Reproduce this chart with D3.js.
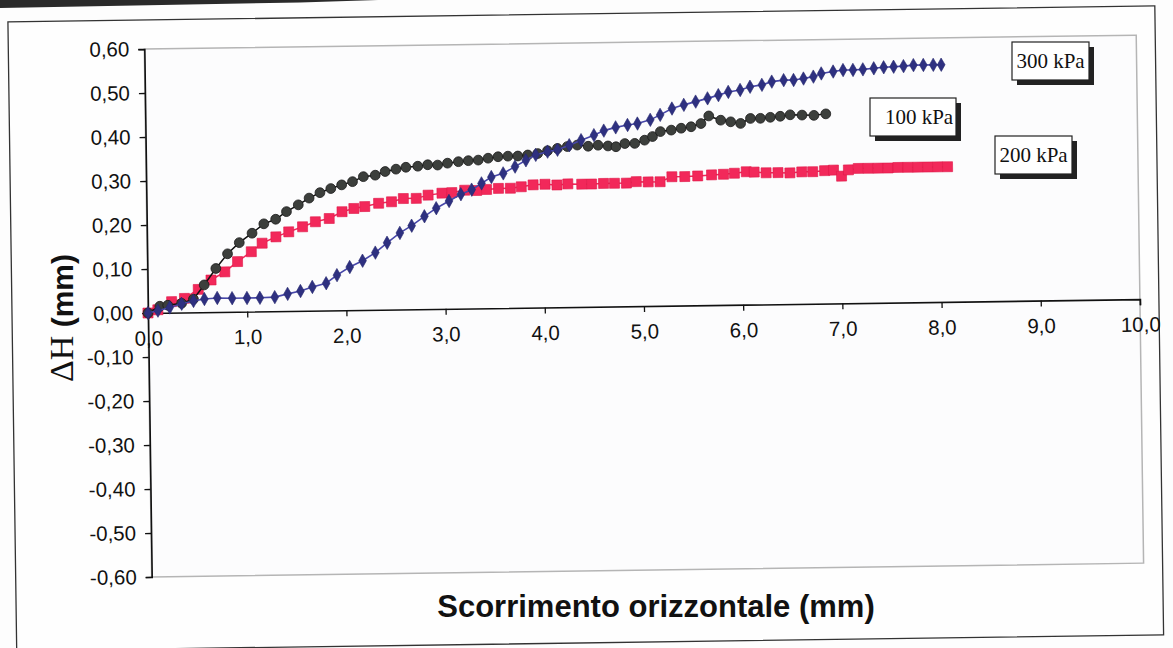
<!DOCTYPE html>
<html>
<head>
<meta charset="utf-8">
<script src="https://cdn.jsdelivr.net/npm/d3@7"></script>
<style>
  html, body { margin: 0; padding: 0; background: #fdfdfd; }
  svg { display: block; }
</style>
</head>
<body>
<svg id="chart" width="1173" height="648"></svg>
<script>
// ---- data ----
const xTicks = [0,1,2,3,4,5,6,7,8,9,10];
const yTicks = [-0.6,-0.5,-0.4,-0.3,-0.2,-0.1,0,0.1,0.2,0.3,0.4,0.5,0.6];
const seriesNames = ["100 kPa", "200 kPa", "300 kPa"];

const x300 = [0.00,0.10,0.22,0.34,0.46,0.57,0.70,0.85,1.00,1.13,1.28,1.41,1.54,1.66,1.80,1.91,2.04,2.17,2.30,2.42,2.55,2.67,2.80,2.92,3.05,3.17,3.28,3.38,3.48,3.60,3.72,3.83,3.93,4.05,4.15,4.27,4.39,4.52,4.62,4.74,4.86,4.96,5.09,5.19,5.31,5.43,5.55,5.67,5.78,5.88,6.00,6.10,6.22,6.32,6.44,6.54,6.64,6.74,6.82,6.94,7.04,7.14,7.24,7.35,7.45,7.55,7.65,7.75,7.85,7.95,8.03];
const y300 = [0.000,0.005,0.012,0.020,0.026,0.030,0.032,0.031,0.031,0.031,0.032,0.039,0.045,0.054,0.062,0.080,0.098,0.112,0.130,0.152,0.174,0.190,0.211,0.229,0.245,0.260,0.270,0.284,0.298,0.306,0.321,0.335,0.347,0.354,0.358,0.368,0.379,0.390,0.400,0.407,0.412,0.415,0.423,0.434,0.448,0.456,0.463,0.470,0.477,0.484,0.488,0.495,0.499,0.506,0.509,0.509,0.512,0.516,0.523,0.527,0.530,0.530,0.531,0.533,0.535,0.536,0.537,0.539,0.539,0.539,0.539];

const x100 = [0.00,0.12,0.20,0.34,0.46,0.57,0.69,0.81,0.93,1.06,1.18,1.30,1.41,1.53,1.64,1.75,1.86,1.97,2.08,2.19,2.31,2.41,2.52,2.62,2.74,2.84,2.94,3.04,3.15,3.25,3.35,3.45,3.55,3.65,3.75,3.85,3.95,4.05,4.15,4.25,4.35,4.46,4.56,4.66,4.74,4.83,4.93,5.03,5.11,5.19,5.30,5.40,5.50,5.60,5.68,5.80,5.90,6.00,6.10,6.20,6.30,6.40,6.50,6.62,6.74,6.86];
const y100 = [0.000,0.015,0.017,0.021,0.030,0.062,0.099,0.132,0.157,0.178,0.199,0.209,0.226,0.241,0.256,0.268,0.277,0.285,0.292,0.303,0.306,0.314,0.319,0.323,0.325,0.328,0.327,0.331,0.334,0.336,0.337,0.341,0.344,0.345,0.345,0.347,0.350,0.356,0.361,0.365,0.368,0.365,0.367,0.365,0.363,0.370,0.370,0.377,0.385,0.396,0.399,0.403,0.406,0.413,0.430,0.420,0.416,0.412,0.423,0.423,0.425,0.427,0.430,0.429,0.428,0.431];

const x200 = [0.00,0.10,0.24,0.37,0.51,0.64,0.78,0.91,1.05,1.16,1.30,1.43,1.57,1.70,1.84,1.97,2.09,2.20,2.34,2.47,2.59,2.72,2.84,2.98,3.08,3.21,3.33,3.43,3.55,3.67,3.78,3.90,4.02,4.14,4.25,4.39,4.49,4.61,4.72,4.84,4.94,5.06,5.18,5.30,5.43,5.56,5.70,5.82,5.93,6.05,6.13,6.25,6.37,6.49,6.61,6.72,6.84,6.93,7.01,7.08,7.18,7.28,7.38,7.48,7.58,7.68,7.78,7.88,7.98,8.08];
const y200 = [0.000,0.007,0.025,0.032,0.052,0.073,0.091,0.114,0.136,0.155,0.169,0.180,0.191,0.202,0.209,0.224,0.231,0.235,0.242,0.245,0.252,0.252,0.259,0.263,0.264,0.269,0.268,0.270,0.272,0.272,0.275,0.279,0.280,0.278,0.280,0.279,0.279,0.280,0.280,0.280,0.283,0.282,0.282,0.293,0.293,0.294,0.296,0.297,0.299,0.302,0.301,0.299,0.299,0.298,0.300,0.300,0.302,0.303,0.289,0.303,0.306,0.306,0.306,0.306,0.307,0.307,0.307,0.307,0.307,0.307];

// ---- layout ----
const svg = d3.select("#chart");
const ox = 148, oy = 313; // origin of the (tilted) scan
const g = svg.append("g").attr("transform", `rotate(-0.8, ${ox}, ${oy})`);

const x = d3.scaleLinear().domain([0, 10]).range([148, 1140]);
const y = d3.scaleLinear().domain([-0.6, 0.6]).range([577, 49]);

const fmt1 = d => d3.format(".1f")(d).replace(".", ",");
const fmt2 = d => d3.format(".2f")(d).replace(".", ",").replace("−", "-");

// scan artifact at top-left
svg.append("path").attr("d", "M0,0 L378,0 L300,2.5 L0,8 Z").attr("fill", "#2a2a2a");

// outer frame
g.append("rect").attr("x", 12).attr("y", 20).attr("width", 1147).attr("height", 629)
  .attr("fill", "#fefefe").attr("stroke", "#333").attr("stroke-width", 1.3);

// plot area
g.append("rect").attr("x", x(0)).attr("y", y(0.6)).attr("width", x(10) - x(0)).attr("height", y(-0.6) - y(0.6))
  .attr("fill", "#fcfcfd").attr("stroke", "#b5b5b5").attr("stroke-width", 1.5);

// axes
const yAxis = d3.axisLeft(y).tickValues(yTicks).tickSize(6).tickPadding(9).tickFormat(fmt2);
const yg = g.append("g").attr("transform", `translate(${x(0)},0)`).call(yAxis);
yg.select(".domain").attr("stroke", "#111").attr("stroke-width", 1.6);
yg.selectAll(".tick line").attr("stroke", "#111").attr("stroke-width", 1.3);
yg.selectAll(".tick text").attr("font-family", "Liberation Sans, Arial, sans-serif").attr("font-size", 20.5).attr("fill", "#111");

const xAxis = d3.axisBottom(x).tickValues(xTicks).tickSize(6).tickPadding(12).tickFormat(fmt1);
const xg = g.append("g").attr("transform", `translate(0,${y(0)})`).call(xAxis);
xg.select(".domain").attr("stroke", "#111").attr("stroke-width", 1.6);
xg.selectAll(".tick line").attr("stroke", "#111").attr("stroke-width", 1.3);
xg.selectAll(".tick text").attr("font-family", "Liberation Sans, Arial, sans-serif").attr("font-size", 20.5).attr("fill", "#111");

// series
function series(xs, ys, name) { return xs.map((v, i) => ({ x: v, y: ys[i], name })); }
const d100 = series(x100, y100, seriesNames[0]);
const d200 = series(x200, y200, seriesNames[1]);
const d300 = series(x300, y300, seriesNames[2]);
const line = d3.line().x(d => x(d.x)).y(d => y(d.y));

// 200 kPa (red squares)
g.append("path").datum(d200).attr("d", line).attr("fill", "none").attr("stroke", "#f0285a").attr("stroke-width", 1.5);
g.append("g").selectAll("rect").data(d200).join("rect")
  .attr("x", d => x(d.x) - 5).attr("y", d => y(d.y) - 5).attr("width", 10).attr("height", 10)
  .attr("fill", "#f2285a").attr("stroke", "#e01848").attr("stroke-width", 0.6);

// 100 kPa (black circles)
g.append("path").datum(d100).attr("d", line).attr("fill", "none").attr("stroke", "#111").attr("stroke-width", 1.5);
g.append("g").selectAll("circle").data(d100).join("circle")
  .attr("cx", d => x(d.x)).attr("cy", d => y(d.y)).attr("r", 4.9)
  .attr("fill", "#3c3f3c").attr("stroke", "#1a1a1a").attr("stroke-width", 0.8);

// 300 kPa (blue diamonds)
g.append("path").datum(d300).attr("d", line).attr("fill", "none").attr("stroke", "#4646a8").attr("stroke-width", 1.6);
g.append("g").selectAll("path.dm").data(d300).join("path")
  .attr("class", "dm")
  .attr("d", d3.symbol().type(d3.symbolDiamond).size(52))
  .attr("transform", d => `translate(${x(d.x)},${y(d.y)})`)
  .attr("fill", "#2e3080").attr("stroke", "#26286e").attr("stroke-width", 0.6);

// axis titles
svg.append("text").attr("x", 656).attr("y", 617).attr("text-anchor", "middle")
  .attr("font-family", "Liberation Sans, Arial, sans-serif").attr("font-weight", "bold").attr("font-size", 31)
  .attr("fill", "#111").text("Scorrimento orizzontale (mm)");

const yt = svg.append("text").attr("transform", "translate(73,318) rotate(-90)").attr("text-anchor", "middle").attr("fill", "#111");
yt.append("tspan").attr("font-family", "Liberation Serif, Times New Roman, serif").attr("font-size", 34).text("ΔH");
yt.append("tspan").attr("font-family", "Liberation Sans, Arial, sans-serif").attr("font-weight", "bold").attr("font-size", 30).text(" (mm)");

// series labels (boxes with shadow)
const labels = [
  { name: seriesNames[2], x0: 1012, y0: 42, w: 77, h: 38 },
  { name: seriesNames[0], x0: 870, y0: 98, w: 86, h: 38 },
  { name: seriesNames[1], x0: 995, y0: 136, w: 77, h: 38 }
];
labels.forEach(l => {
  svg.append("rect").attr("x", l.x0 + 5).attr("y", l.y0 + 5).attr("width", l.w).attr("height", l.h).attr("fill", "#222");
  svg.append("rect").attr("x", l.x0).attr("y", l.y0).attr("width", l.w).attr("height", l.h)
    .attr("fill", "#fff").attr("stroke", "#222").attr("stroke-width", 1.2);
  svg.append("text").attr("x", l.x0 + l.w / 2 + (l.w > 80 ? 6 : 0)).attr("y", l.y0 + l.h / 2 + 7).attr("text-anchor", "middle")
    .attr("font-family", "Liberation Serif, Times New Roman, serif").attr("font-size", 21).attr("fill", "#111").text(l.name);
});
</script>
</body>
</html>
